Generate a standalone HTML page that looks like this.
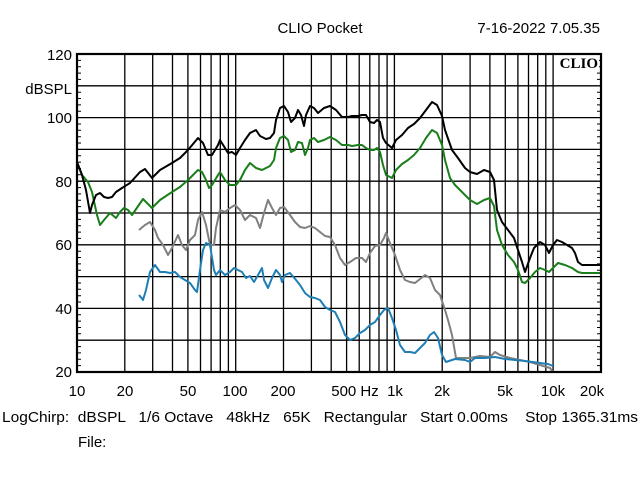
<!DOCTYPE html>
<html><head><meta charset="utf-8"><style>
html,body{margin:0;padding:0;background:#fff;}
svg{display:block;font-family:"Liberation Sans",sans-serif;}
</style></head><body>
<svg width="640" height="480" viewBox="0 0 640 480" xmlns="http://www.w3.org/2000/svg">
<rect width="640" height="480" fill="#fff"/>
<text x="320" y="33" font-size="15" text-anchor="middle">CLIO Pocket</text>
<text x="600" y="33" font-size="15" text-anchor="end">7-16-2022 7.05.35</text>
<g stroke="#000" stroke-width="1.3">
<line x1="77" y1="85.8" x2="601" y2="85.8"/><line x1="77" y1="117.6" x2="601" y2="117.6"/>
<line x1="77" y1="149.4" x2="601" y2="149.4"/><line x1="77" y1="181.2" x2="601" y2="181.2"/>
<line x1="77" y1="213" x2="601" y2="213"/><line x1="77" y1="244.8" x2="601" y2="244.8"/>
<line x1="77" y1="276.6" x2="601" y2="276.6"/><line x1="77" y1="308.4" x2="601" y2="308.4"/>
<line x1="77" y1="340.2" x2="601" y2="340.2"/>
<g id="v">
<line x1="124.8" y1="54" x2="124.8" y2="372"/><line x1="152.7" y1="54" x2="152.7" y2="372"/>
<line x1="172.5" y1="54" x2="172.5" y2="372"/><line x1="187.9" y1="54" x2="187.9" y2="372"/>
<line x1="200.5" y1="54" x2="200.5" y2="372"/><line x1="211.1" y1="54" x2="211.1" y2="372"/>
<line x1="220.3" y1="54" x2="220.3" y2="372"/><line x1="228.4" y1="54" x2="228.4" y2="372"/>
<line x1="235.7" y1="54" x2="235.7" y2="372"/>
</g>
<use href="#v" x="158.7"/><use href="#v" x="317.4"/>
<line x1="600.9" y1="54" x2="600.9" y2="372"/>
</g>
<g stroke="#000" stroke-width="1">
<path d="M77 60.4h4M77 66.7h4M77 73.1h4M77 79.4h4M77 92.2h4M77 98.5h4M77 104.9h4M77 111.2h4M77 124h4M77 130.3h4M77 136.7h4M77 143h4M77 155.8h4M77 162.1h4M77 168.5h4M77 174.8h4M77 187.6h4M77 193.9h4M77 200.3h4M77 206.6h4M77 219.4h4M77 225.7h4M77 232.1h4M77 238.4h4M77 251.2h4M77 257.5h4M77 263.9h4M77 270.2h4M77 283h4M77 289.3h4M77 295.7h4M77 302h4M77 314.8h4M77 321.1h4M77 327.5h4M77 333.8h4M77 346.6h4M77 352.9h4M77 359.3h4M77 365.6h4"/>
<path transform="translate(520,0)" d="M77 60.4h4M77 66.7h4M77 73.1h4M77 79.4h4M77 92.2h4M77 98.5h4M77 104.9h4M77 111.2h4M77 124h4M77 130.3h4M77 136.7h4M77 143h4M77 155.8h4M77 162.1h4M77 168.5h4M77 174.8h4M77 187.6h4M77 193.9h4M77 200.3h4M77 206.6h4M77 219.4h4M77 225.7h4M77 232.1h4M77 238.4h4M77 251.2h4M77 257.5h4M77 263.9h4M77 270.2h4M77 283h4M77 289.3h4M77 295.7h4M77 302h4M77 314.8h4M77 321.1h4M77 327.5h4M77 333.8h4M77 346.6h4M77 352.9h4M77 359.3h4M77 365.6h4"/>
</g>
<g fill="none" stroke-width="2" stroke-linejoin="round">
<polyline stroke="#808080" points="139,230 145,225 150,222 155,230 158,238 163,245 168,255 172,248 178,235 182,245 186,250 190,240 195,235 198,220 202,212 206,225 210,245 214,245 216,228 220,210 225,212 230,208 235,205 240,210 245,220 250,215 256,218 260,228 264,213 268,200 272,208 276,215 280,208 284,207 290,215 295,222 300,227 305,228 310,226 315,228 320,232 325,236 330,237 335,245 340,258 345,265 350,262 356,258 362,258 366,262 370,253 375,246 380,245 384,238 386,233 390,243 395,255 400,270 405,280 410,282 415,283 420,279 425,275 430,278 435,290 440,295 445,310 448,320 452,335 456,358 460,358 470,358 480,356 490,357 495,352 500,355 510,358 520,360 530,362 540,365 550,368 553,372"/>
<polyline stroke="#1f7fb5" points="139,295 143,300 146,290 150,272 155,265 160,272 165,272 170,273 175,272 180,277 185,280 190,283 195,290 197,292 200,270 203,250 206,243 210,245 214,270 216,275 220,270 225,275 230,272 234,268 238,270 242,272 246,278 250,276 254,282 258,275 262,268 264,280 268,288 272,278 276,270 280,275 282,282 285,275 290,273 296,280 300,285 305,293 310,297 315,298 320,300 325,307 330,310 335,312 340,322 345,335 350,340 355,338 360,333 365,330 370,325 375,322 380,315 384,310 388,308 392,318 396,330 400,345 405,352 410,352 415,353 420,348 425,343 430,335 434,332 438,338 442,355 446,362 455,359 465,360 470,362 475,358 485,358 495,357 505,359 515,360 525,361 540,363 548,364 553,366"/>
<polyline stroke="#1a7f1a" points="77,162 82,175 88,182 92,192 97,215 100,225 104,220 110,213 116,218 120,212 124,208 128,210 132,215 143,199 152,208 160,200 172,192 180,187 188,180 198,170 202,172 206,180 209,188 212,185 218,175 220,172 225,180 230,185 236,185 240,180 245,170 250,163 256,168 262,170 266,168 270,166 274,160 276,148 280,138 284,136 288,140 291,152 295,150 298,142 302,143 305,155 308,148 310,140 314,138 318,142 324,140 330,137 336,140 342,145 348,145 352,146 358,145 362,145 366,148 370,150 374,150 377,148 380,152 383,165 386,175 392,178 396,170 402,164 408,160 414,155 420,148 426,138 432,130 437,133 442,145 445,160 450,178 455,185 465,195 470,200 477,204 484,200 490,198 494,206 497,230 502,245 508,255 514,262 518,270 522,282 525,283 530,278 535,272 540,268 545,270 549,272 553,268 558,263 565,265 572,268 578,272 582,273 600,273"/>
<polyline stroke="#000" points="77,162 82,175 86,190 90,213 92,205 96,195 100,193 104,197 108,198 112,197 116,192 122,188 130,183 140,172 145,169 152,178 160,170 172,163 180,158 188,150 198,138 203,143 208,155 212,155 218,145 220,140 225,148 228,153 232,152 236,155 240,148 245,140 250,133 256,130 260,136 266,139 270,138 274,133 276,120 280,108 284,106 288,112 291,122 295,118 298,110 301,115 304,126 306,115 310,106 314,108 318,113 324,108 330,106 336,110 342,117 348,117 352,116 358,116 362,115 366,115 370,122 374,123 377,120 380,122 383,138 386,143 392,148 396,140 402,135 408,128 414,124 420,118 426,110 432,102 437,105 442,116 445,130 452,150 458,158 465,168 470,172 477,174 484,170 490,172 494,180 497,210 502,222 508,230 514,238 518,250 522,262 525,272 530,258 534,248 540,242 545,245 549,253 553,245 557,240 562,242 567,245 572,248 575,253 578,262 582,265 600,265"/>
</g>
<rect x="77" y="54" width="524" height="318" fill="none" stroke="#000" stroke-width="2.2"/>
<rect x="556" y="56" width="43" height="14" fill="#fff"/>
<text x="598" y="68" font-family="Liberation Serif,serif" font-weight="bold" font-size="15" text-anchor="end">CLIO</text>
<g font-size="15" text-anchor="end">
<text x="72" y="60">120</text><text x="72" y="94">dBSPL</text>
<text x="72" y="123">100</text><text x="72" y="187">80</text>
<text x="72" y="250">60</text><text x="72" y="314">40</text><text x="72" y="377">20</text>
</g>
<g font-size="15" text-anchor="middle">
<text x="77" y="396">10</text><text x="125" y="396">20</text><text x="188" y="396">50</text>
<text x="235" y="396">100</text><text x="283" y="396">200</text><text x="355" y="396">500 Hz</text>
<text x="395" y="396">1k</text><text x="442" y="396">2k</text><text x="505" y="396">5k</text>
<text x="553" y="396">10k</text><text x="592" y="396">20k</text>
</g>
<text x="2" y="422" font-size="15" textLength="636" lengthAdjust="spacingAndGlyphs" xml:space="preserve">LogChirp:  dBSPL   1/6 Octave   48kHz   65K   Rectangular   Start 0.00ms    Stop 1365.31ms</text>
<text x="78" y="447" font-size="15">File:</text>
</svg>
</body></html>
